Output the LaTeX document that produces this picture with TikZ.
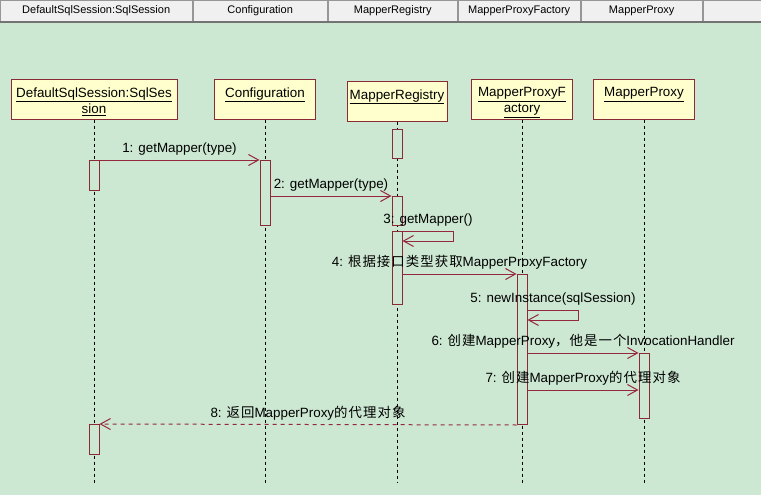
\documentclass[tikz,border=0pt]{standalone}
\usepackage{fontspec}
\setmainfont{Liberation Sans}
\newfontfamily\cjk[LetterSpace=8]{Noto Sans CJK SC}
\usetikzlibrary{arrows.meta}
\definecolor{bggreen}{RGB}{204,232,210}
\definecolor{objfill}{RGB}{255,255,206}
\definecolor{objline}{RGB}{138,42,52}
\definecolor{msgline}{RGB}{150,40,62}
\definecolor{tabfill}{RGB}{240,240,240}
\definecolor{tabline}{RGB}{150,150,150}
\begin{document}
\begin{tikzpicture}[x=1pt,y=-1pt,
  tab/.style={draw=tabline,fill=tabfill,minimum height=21pt,inner sep=0pt,anchor=north west,font=\fontsize{11}{13}\selectfont},
  objbox/.style={draw=objline,fill=objfill,line width=1pt,minimum height=39pt},
  objtitle/.style={anchor=north,inner xsep=2pt,inner ysep=8pt,align=center,font=\fontsize{13.4}{16}\selectfont},
  actbar/.style={draw=objline,fill=bggreen,line width=1pt,minimum width=10pt,inner sep=0pt,anchor=north},
  lifeline/.style={dash pattern=on 3pt off 3pt,line width=0.9pt},
  msg/.style={draw=msgline,line width=1pt,-{Straight Barb[length=10pt,width=11pt]}},
  ret/.style={msg,dash pattern=on 4pt off 4pt},
  lbl/.style={above,inner sep=4pt,text=black,font=\fontsize{13.4}{15.5}\selectfont}] % Sequence
  \useasboundingbox (0,0) rectangle (761,495);
  \fill[bggreen] (0,0) rectangle (761,495);
  % tabs
  \node[tab,minimum width=192pt] (tdss) at (0,0) {DefaultSqlSession:SqlSession};
  \node[tab,minimum width=134pt] (tcfg) at (193,0) {Configuration};
  \node[tab,minimum width=129pt] (tmr) at (328,0) {MapperRegistry};
  \node[tab,minimum width=122pt] (tmpf) at (458,0) {MapperProxyFactory};
  \node[tab,minimum width=121pt] (tmp) at (581,0) {MapperProxy};
  \node[tab,minimum width=58pt] (tend) at (703,0) {};
  \draw[line width=2pt,black!55] (0,22) -- (761,22);
  % objects
  \node[objbox,minimum width=166pt] (dss) at (94,99.5) {};
  \node[objbox,minimum width=101pt] (cfg) at (265,99.5) {};
  \node[objbox,minimum width=100pt] (mr) at (397,101.5) {};
  \node[objbox,minimum width=101pt] (mpf) at (522,99.5) {};
  \node[objbox,minimum width=101pt] (mp) at (644,99.5) {};
  \node[objtitle] (dsst) at (dss.north) {\underline{DefaultSqlSession:SqlSes}\\\underline{sion}};
  \node[objtitle] (cfgt) at (cfg.north) {\underline{Configuration}};
  \node[objtitle] (mrt) at (mr.north) {\underline{MapperRegistry}};
  \node[objtitle] (mpft) at (mpf.north) {\underline{MapperProxyF}\\\underline{actory}};
  \node[objtitle] (mpt) at (mp.north) {\underline{MapperProxy}};
  \foreach \o in {dss,cfg,mr,mpf,mp}
    \draw[lifeline] (\o.south) -- (\o.south |- 0,483);
  % activations
  \node[actbar,minimum height=30pt] (dss1) at (94,160) {};
  \node[actbar,minimum height=30pt] (dss2) at (94,424) {};
  \node[actbar,minimum height=65pt] (cfg1) at (265,160) {};
  \node[actbar,minimum height=29pt] (mr1) at (397,129) {};
  \node[actbar,minimum height=29pt] (mr2) at (397,196) {};
  \node[actbar,minimum height=73pt] (mr3) at (397,231) {};
  \node[actbar,minimum height=150pt] (mpf1) at (522,274) {};
  \node[actbar,minimum height=65pt] (mp1) at (644,353) {};
  % messages
  \draw[msg] (dss1.north east) -- node[lbl]{1: getMapper(type)} (cfg1.north west);
  \draw[msg] (cfg1.east |- mr2.north) -- node[lbl]{2: getMapper(type)} (mr2.north west);
  \draw[msg] (mr3.north east) -- node[lbl]{3: getMapper()} ++(51,0) |- (mr3.east |- 0,241);
  \draw[msg] (mr3.east |- mpf1.north) -- node[lbl]{4: {\cjk 根据接口类型获取}MapperProxyFactory} (mpf1.north west);
  \draw[msg] (mpf1.east |- 0,310) -- node[lbl]{5: newInstance(sqlSession)} ++(51,0) |- (mpf1.east |- 0,320);
  \draw[msg] (mpf1.east |- mp1.north) -- node[lbl]{6: {\cjk 创建}MapperProxy{\cjk ，他是一个}InvocationHandler} (mp1.north west);
  \draw[msg] (mpf1.east |- 0,390) -- node[lbl]{7: {\cjk 创建}MapperProxy{\cjk 的代理对象}} (mp1.west |- 0,390);
  \draw[ret] (mpf1.south west) -- node[lbl]{8: {\cjk 返回}MapperProxy{\cjk 的代理对象}} (dss2.north east);
\end{tikzpicture}
\end{document}
